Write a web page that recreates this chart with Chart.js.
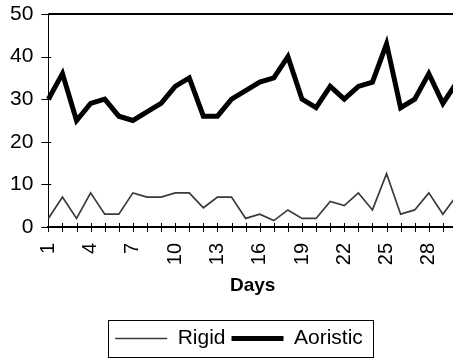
<!DOCTYPE html>
<html>
<head>
<meta charset="utf-8">
<script src="https://cdn.jsdelivr.net/npm/chart.js@4.4.1/dist/chart.umd.min.js"></script>
<style>
    html, body { margin: 0; padding: 0; background: #fff; overflow: hidden; }
    #wrap { width: 460px; height: 361px; position: relative; }
</style>
</head>
<body>
<div id="wrap"><canvas id="daysChart"></canvas></div>
<script>
const days = ['1', '2', '3', '4', '5', '6', '7', '8', '9', '10',
              '11', '12', '13', '14', '15', '16', '17', '18', '19', '20',
              '21', '22', '23', '24', '25', '26', '27', '28', '29', '30'];
const rigid = [2, 7, 2, 8, 3, 3, 8, 7, 7, 8,
               8, 4.5, 7, 7, 2, 3, 1.5, 4, 2, 2,
               6, 5, 8, 4, 12.5, 3, 4, 8, 3, 7.5];
const aoristic = [30, 36, 25, 29, 30, 26, 25, 27, 29, 33,
                  35, 26, 26, 30, 32, 34, 35, 40, 30, 28,
                  33, 30, 33, 34, 43, 28, 30, 36, 29, 34];
const yMin = 0, yMax = 50, yStep = 10;

const FONT = '"Liberation Sans", Arial, sans-serif';

// Excel style: tick marks crossing the axes, top border, box round the legend
const excelFrame = {
    id: 'excelFrame',
    afterLayout(chart) {
        // legend sits a little right of the canvas centre in the original
        chart.legend.left += 13;
        chart.legend.right += 13;
    },
    afterDraw(chart) {
        const { ctx, chartArea, scales: { x, y } } = chart;
        ctx.save();
        ctx.strokeStyle = '#000';
        ctx.lineWidth = 2;
        ctx.beginPath();
        ctx.moveTo(chartArea.left, chartArea.top);
        ctx.lineTo(chartArea.right + 5, chartArea.top);
        ctx.stroke();

        ctx.lineWidth = 1;
        ctx.beginPath();
        x.ticks.forEach((t, i) => {
            const px = Math.round(x.getPixelForTick(i)) + 0.5;
            ctx.moveTo(px, chartArea.bottom - 4);
            ctx.lineTo(px, chartArea.bottom + 5);
        });
        y.ticks.forEach((t, i) => {
            const py = Math.round(y.getPixelForTick(i)) + 0.5;
            ctx.moveTo(chartArea.left - 7, py);
            ctx.lineTo(chartArea.left + 3, py);
        });
        ctx.stroke();

        const boxes = chart.legend.legendHitBoxes;
        if (boxes && boxes.length) {
            const l = Math.min(...boxes.map(b => b.left)) - 7;
            const r = Math.max(...boxes.map(b => b.left + b.width)) + 10;
            const t = Math.min(...boxes.map(b => b.top)) - 8;
            const bt = Math.max(...boxes.map(b => b.top + b.height)) + 8;
            ctx.lineWidth = 1;
            ctx.strokeRect(Math.round(l) + 0.5, Math.round(t) + 0.5, Math.round(r - l), Math.round(bt - t));
        }
        ctx.restore();
    }
};

new Chart(document.getElementById('daysChart'), {
    type: 'line',
    data: {
        labels: days,
        datasets: [{
            label: 'Rigid',
            data: rigid,
            borderColor: '#3a3a3a',
            backgroundColor: '#3a3a3a',
            borderWidth: 1.7,
            pointRadius: 0,
            tension: 0
        }, {
            label: 'Aoristic',
            data: aoristic,
            borderColor: '#000',
            backgroundColor: '#000',
            borderWidth: 5,
            pointRadius: 0,
            tension: 0
        }]
    },
    options: {
        responsive: true,
        maintainAspectRatio: false,
        animation: false,
        layout: { padding: { left: -5, right: 3, top: 14, bottom: 2 } },
        plugins: {
            tooltip: { enabled: false },
            legend: {
                position: 'bottom',
                labels: {
                    usePointStyle: true,
                    pointStyle: 'line',
                    pointStyleWidth: 52,
                    color: '#000',
                    padding: 6,
                    font: { family: FONT, size: 21 }
                }
            }
        },
        scales: {
            x: {
                offset: false,
                grid: { display: false },
                border: { display: true, color: '#000', width: 2 },
                afterFit: (s) => { s.paddingLeft = 0; s.paddingRight = 0; },
                title: {
                    display: true,
                    text: 'Days',
                    color: '#000',
                    font: { family: FONT, size: 19, weight: 'bold' },
                    padding: { top: 1, bottom: 25 }
                },
                ticks: {
                    autoSkip: false,
                    minRotation: 90,
                    maxRotation: 90,
                    padding: 8,
                    color: '#000',
                    font: { family: FONT, size: 20 },
                    callback: (v, i) => (i % 3 === 0 ? days[i] : '')
                }
            },
            y: {
                min: yMin,
                max: yMax,
                grid: { display: false, drawTicks: false },
                border: { display: true, color: '#000', width: 1 },
                afterFit: (s) => { s.paddingTop = 0; s.paddingBottom = 0; },
                ticks: {
                    stepSize: yStep,
                    padding: 15,
                    color: '#000',
                    font: { family: FONT, size: 21 }
                }
            }
        }
    },
    plugins: [excelFrame]
});
</script>
</body>
</html>
